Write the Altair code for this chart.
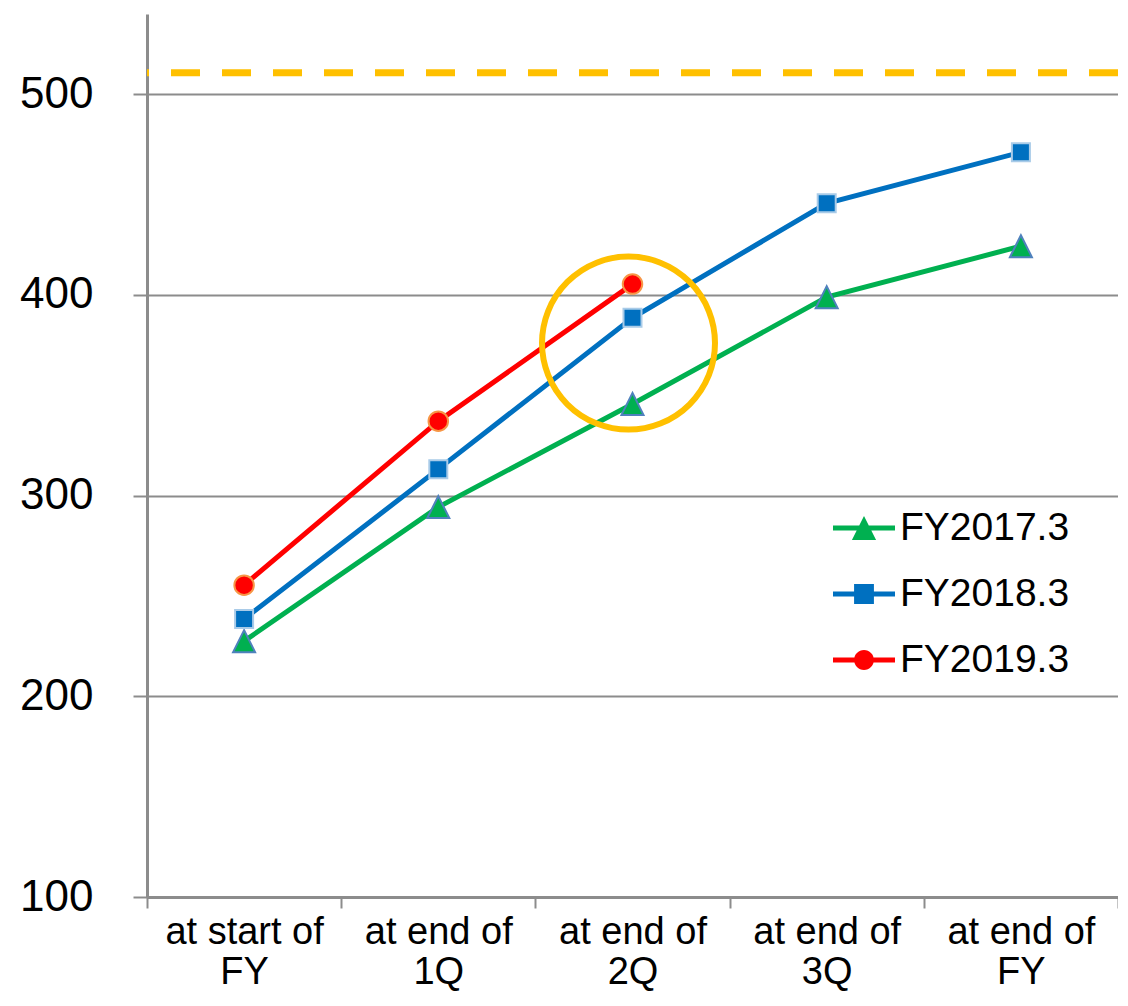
import altair as alt
import pandas as pd

categories = ["at start of FY", "at end of 1Q", "at end of 2Q", "at end of 3Q", "at end of FY"]
series_names = ["FY2017.3", "FY2018.3", "FY2019.3"]
fy2017 = [227.5, 294.3, 345.7, 398.9, 424.3]
fy2018 = [238.5, 313.2, 388.6, 445.7, 471.1]
fy2019 = [255.4, 337.1, 405.4]
series_values = [fy2017, fy2018, fy2019]
y_ticks = [100, 200, 300, 400, 500]
target_value = 510.7
highlight_category = "at end of 2Q"
highlight_value = 376

line_colors = ["#00B050", "#0070C0", "#FF0000"]
marker_strokes = ["#4F81BD", "#A9CBE8", "#F79646"]
marker_shapes = ["M0,-1L1,1L-1,1Z", "square", "circle"]
marker_sizes = [484, 324, 380]
legend_paths = [
    "M-1,-0.08H1V0.08H-1Z M0,-0.39L0.39,0.39H-0.39Z",
    "M-1,-0.08H1V0.08H-1Z M-0.32,-0.32H0.32V0.32H-0.32Z",
    "M-1,-0.08H1V0.08H-1Z M0.32,0A0.32,0.32 0 1,1 -0.32,0A0.32,0.32 0 1,1 0.32,0Z",
]

rows = []
for name, vals in zip(series_names, series_values):
    for cat, v in zip(categories, vals):
        rows.append({"series": name, "category": cat, "value": v})
df = pd.DataFrame(rows)

FONT = "Liberation Sans"
GRAY = "#8C8C8C"

X = alt.X(
    "category:N",
    sort=categories,
    scale=alt.Scale(type="band", domain=categories, paddingInner=0, paddingOuter=0),
    axis=alt.Axis(
        title=None, labelAngle=0, labelFont=FONT, labelFontSize=38, labelColor="black",
        labelExpr="[slice(datum.label, 0, lastindexof(datum.label, ' ')), slice(datum.label, lastindexof(datum.label, ' ') + 1)]",
        labelLineHeight=40, labelPadding=5, labelBaseline="top", labelLimit=0,
        tickBand="extent", tickSize=11, tickColor=GRAY, tickWidth=2,
        domainColor=GRAY, domainWidth=3, grid=False,
    ),
)
Y = alt.Y(
    "value:Q",
    scale=alt.Scale(domain=[100, 540], nice=False, zero=False),
    axis=alt.Axis(
        title=None, values=y_ticks, labelFont=FONT, labelFontSize=44, labelColor="black",
        labelPadding=40, tickSize=14, tickColor=GRAY, tickWidth=2,
        domainColor=GRAY, domainWidth=3, grid=True, gridColor=GRAY, gridWidth=2,
        labelFlush=False,
    ),
)

base = alt.Chart(df).encode(x=X, y=Y)

layers = []
for i, name in enumerate(series_names):
    sub = base.transform_filter(alt.datum.series == name)
    layers.append(sub.mark_line(color=line_colors[i], strokeWidth=5))
    layers.append(
        sub.mark_point(
            filled=True, shape=marker_shapes[i], size=marker_sizes[i],
            fill=line_colors[i], stroke=marker_strokes[i], strokeWidth=2, opacity=1,
        )
    )

target = alt.Chart(pd.DataFrame({"t": [target_value]})).mark_rule(
    color="#FFC000", strokeWidth=7, strokeDash=[29, 22]
).encode(y=alt.Y("t:Q"))

highlight = alt.Chart(
    pd.DataFrame({"category": [highlight_category], "value": [highlight_value]})
).mark_point(
    shape="circle", size=29929, filled=False, stroke="#FFC000", strokeWidth=6, opacity=1, xOffset=-4
).encode(x=X, y=Y)

leg = alt.Legend(
    title=None, orient="none", legendX=686, legendY=483, labelFont=FONT, labelFontSize=39,
    labelColor="black", labelOffset=5, rowPadding=15, padding=0, symbolSize=3844,
    symbolStrokeWidth=0, symbolOpacity=1, labelLimit=0,
)
legend_layer = base.transform_filter("false").mark_point(filled=True, opacity=1, size=3844).encode(
    color=alt.Color("series:N", scale=alt.Scale(domain=series_names, range=line_colors), legend=leg),
    shape=alt.Shape("series:N", scale=alt.Scale(domain=series_names, range=legend_paths), legend=leg),
)

chart = alt.layer(target, *layers, highlight, legend_layer).properties(
    width=971, height=883,
    autosize=alt.AutoSizeParams(type="none"),
    padding={"left": 139, "top": 6, "right": 0, "bottom": 94},
    background="white",
).configure_view(stroke=None)

chart.save("out.html", embed_options={"renderer": "svg", "actions": False})
